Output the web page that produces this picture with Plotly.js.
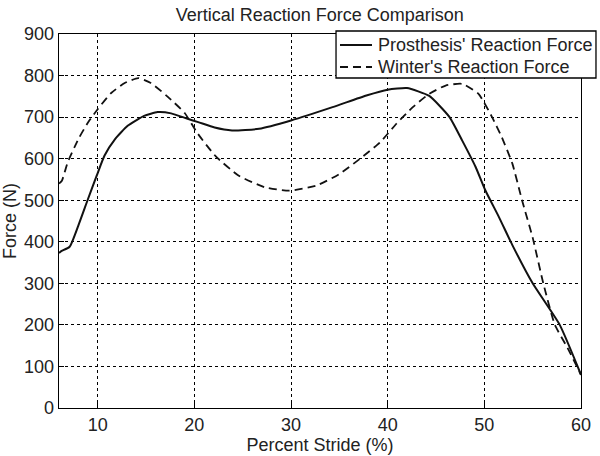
<!DOCTYPE html>
<html>
<head>
<meta charset="utf-8">
<script src="https://cdn.plot.ly/plotly-3.0.1.min.js"></script>
<style>html,body{margin:0;padding:0;background:#fff;}#chart{width:600px;height:456px;}</style>
</head>
<body>
<div id="chart"></div>
<script>
var prosX = [6, 6.2, 7.1, 8.0, 9.0, 9.9, 10.7, 11.8, 13.1, 14.8, 16.2, 17.6, 19.3, 20.4, 22.1, 23.9, 26.7, 30, 34.3, 37.8, 40, 42.0, 44.3, 46.4, 47.7, 49.1, 50.1, 51.5, 52.9, 55.0, 57.8, 60];
var prosY = [373, 377, 388, 439, 503, 559, 607, 647, 679, 703, 712, 709, 696, 688, 675, 668, 672, 692, 724, 752, 766, 770, 751, 700, 644, 580, 524, 460, 392, 300, 200, 80];
var wintX = [6, 6.3, 6.9, 8.0, 9.0, 10.0, 11.4, 12.8, 14.2, 15.5, 17.2, 19.0, 20.3, 22.2, 24.6, 27.3, 29.8, 32.6, 35.0, 37.1, 39.2, 40.9, 42.6, 44.3, 46.0, 47.7, 49.4, 50.8, 51.8, 52.9, 53.9, 55.0, 56.1, 57.3, 58.6, 60];
var wintY = [540, 547, 591, 647, 687, 719, 758, 782, 794, 782, 750, 710, 662, 606, 559, 531, 523, 535, 563, 599, 639, 684, 724, 756, 776, 780, 756, 700, 652, 588, 500, 410, 300, 200, 145, 80];
var seriesNames = ["Prosthesis' Reaction Force", "Winter's Reaction Force"];
var xTicks = [10, 20, 30, 40, 50, 60];
var yTicks = [0, 100, 200, 300, 400, 500, 600, 700, 800, 900];

var font = {family: 'Liberation Sans, Arial, Helvetica, sans-serif', size: 18, color: '#222'};
var dashStyle = '8px,5px';

var traces = [
  {x: prosX, y: prosY, mode: 'lines', name: seriesNames[0],
   line: {color: '#111', width: 2, shape: 'spline', smoothing: 0.5}},
  {x: wintX, y: wintY, mode: 'lines', name: seriesNames[1],
   line: {color: '#111', width: 1.8, dash: dashStyle, shape: 'spline', smoothing: 0.5}}
];

var axisCommon = {
  showgrid: true, gridcolor: '#000', griddash: 'dot', gridwidth: 1,
  showline: true, linecolor: '#000', linewidth: 1.3, mirror: true,
  ticks: 'inside', ticklen: 5, tickcolor: '#000',
  zeroline: false, tickfont: font
};

// Manual legend box (MATLAB-style, compact), in paper coordinates
var lg = {x0: 0.5307, x1: 1.0287, y0: 0.8824, y1: 1.008, rows: [0.9706, 0.9118],
          lineX0: 0.5383, lineX1: 0.5996, textX: 0.6073};
var shapes = [
  {type: 'rect', xref: 'paper', yref: 'paper', x0: lg.x0, x1: lg.x1, y0: lg.y0, y1: lg.y1,
   fillcolor: '#fff', line: {color: '#000', width: 1.3}, layer: 'above'},
  {type: 'line', xref: 'paper', yref: 'paper', x0: lg.lineX0, x1: lg.lineX1, y0: lg.rows[0], y1: lg.rows[0],
   line: {color: '#111', width: 2}, layer: 'above'},
  {type: 'line', xref: 'paper', yref: 'paper', x0: lg.lineX0, x1: lg.lineX1, y0: lg.rows[1], y1: lg.rows[1],
   line: {color: '#111', width: 1.8, dash: dashStyle}, layer: 'above'}
];
var annotations = seriesNames.map(function (n, i) {
  return {text: n, xref: 'paper', yref: 'paper', x: lg.textX, y: lg.rows[i],
          xanchor: 'left', yanchor: 'middle', showarrow: false, font: font};
});

var layout = {
  width: 600, height: 456,
  margin: {l: 59, r: 19, t: 34, b: 48},
  paper_bgcolor: '#fff', plot_bgcolor: '#fff',
  font: font,
  title: {text: 'Vertical Reaction Force Comparison', font: font, x: 0.533, xanchor: 'center', y: 0.967, yanchor: 'middle'},
  xaxis: Object.assign({}, axisCommon, {range: [6, 60], tickvals: xTicks,
    title: {text: 'Percent Stride (%)', font: font, standoff: 0}}),
  yaxis: Object.assign({}, axisCommon, {range: [0, 900], tickvals: yTicks,
    title: {text: 'Force (N)', font: font, standoff: 4}}),
  shapes: shapes,
  annotations: annotations,
  showlegend: false
};

Plotly.newPlot('chart', traces, layout, {displayModeBar: false, staticPlot: true});
</script>
</body>
</html>
